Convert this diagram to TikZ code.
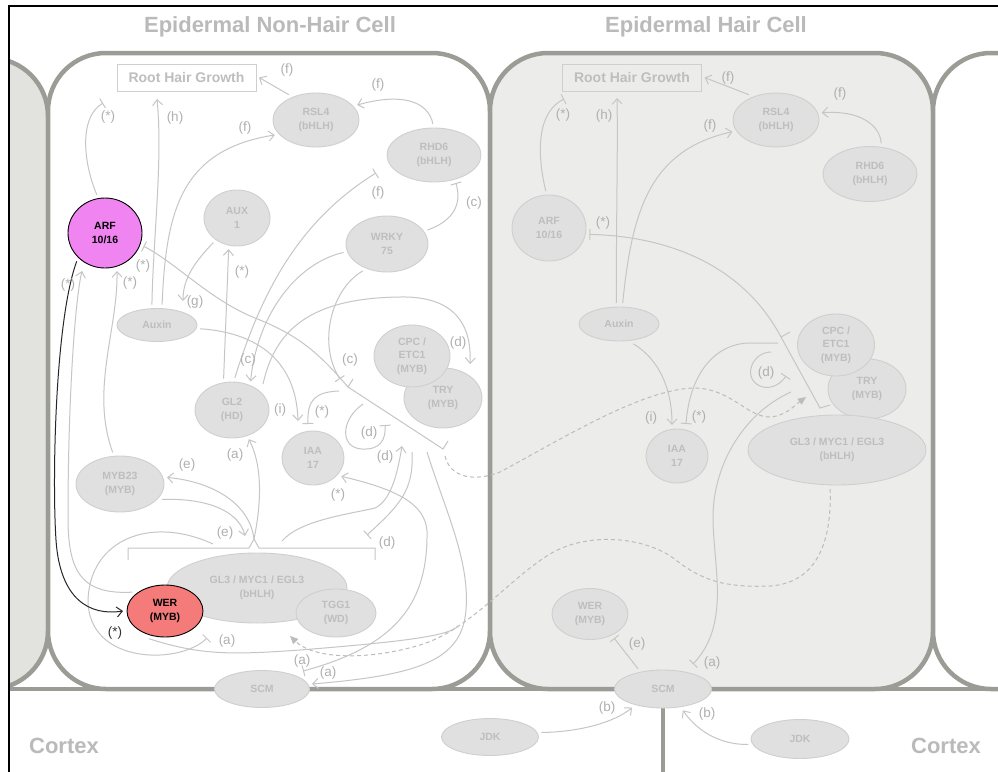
\documentclass[tikz,border=0pt]{standalone}
\usepackage{fontspec}
\setmainfont{Liberation Sans}
\usetikzlibrary{shapes.geometric,arrows.meta}
\definecolor{wallc}{RGB}{156,156,150}
\definecolor{haircell}{RGB}{236,236,234}
\definecolor{sidecell}{RGB}{226,226,223}
\definecolor{nfill}{RGB}{224,224,224}
\definecolor{nline}{RGB}{207,207,207}
\definecolor{ntext}{RGB}{190,190,190}
\definecolor{ecol}{RGB}{198,198,198}
\definecolor{lcol}{RGB}{176,176,176}
\definecolor{tcol}{RGB}{186,186,186}
\definecolor{arfc}{RGB}{240,132,240}
\definecolor{werc}{RGB}{245,122,122}
\definecolor{dashc}{RGB}{188,188,188}
\tikzset{
  gnode/.style={ellipse, draw=nline, fill=nfill, text=ntext, line width=0.9pt,
    inner sep=0pt, outer sep=4pt, align=center,
    font=\bfseries\fontsize{10.5}{13.5}\selectfont},
  keynode/.style={gnode, draw=black, text=black},
  rhgbox/.style={rectangle, draw=nline, line width=1pt, text=ntext, inner sep=0pt,
    outer sep=3pt, minimum width=139pt, minimum height=27pt,
    font=\bfseries\fontsize{14}{16}\selectfont},
  lnk/.style={draw=ecol, line width=1pt},
  act/.style={lnk, -{Straight Barb[length=5.5pt,width=10pt]}},
  inh/.style={lnk, -{Bar[width=11pt]}},
  keyact/.style={draw=black!85, line width=1pt, -{Straight Barb[length=5.5pt,width=10pt]}},
  moves/.style={draw=dashc, line width=1pt, dash pattern=on 4pt off 3pt,
    -{Triangle[length=8pt,width=7pt,fill=dashc]}},
  lab/.style={text=lcol, inner sep=0pt, font=\fontsize{13.5}{14}\selectfont},
  keylab/.style={lab, text=black!80},
  celltitle/.style={text=tcol, inner sep=0pt, font=\bfseries\fontsize{22}{24}\selectfont},
  wall/.style={draw=wallc, line width=4.5pt},
}
\begin{document}
\begin{tikzpicture}[x=1pt,y=-1pt]
\useasboundingbox (0,0) rectangle (998,771);
\fill[white] (0,0) rectangle (998,771);

% ---------- cells ----------
\begin{scope}
\clip (9,6) rectangle (998,771);
\draw[wall, fill=sidecell, rounded corners=58pt] (-120,58) rectangle (48,689);
\draw[wall, fill=white, rounded corners=58pt] (48,53) rectangle (490,689);
\draw[wall, fill=haircell, rounded corners=58pt] (490,53) rectangle (933,689);
\draw[wall, fill=white, rounded corners=58pt] (933,53) rectangle (1100,689);
\draw[wall] (0,689) -- (998,689);
\draw[wall] (663,689) -- (663,780);
\end{scope}
\draw[black, line width=1.5pt] (9,780) -- (9,6) -- (1000,6);

% ---------- titles ----------
\node[celltitle] (tnon) at (270,27) {Epidermal Non-Hair Cell};
\node[celltitle] (thair) at (706,27) {Epidermal Hair Cell};
\node[celltitle] (tcx1) at (64,746) {Cortex};
\node[celltitle] (tcx2) at (946,746) {Cortex};

% ---------- non-hair cell nodes ----------
\node[rhgbox, fill=white] (nrhg) at (186.5,77.5) {Root Hair Growth};
\node[gnode, minimum width=86pt, minimum height=54pt] (nrsl4) at (316,120) {RSL4\\(bHLH)};
\node[gnode, minimum width=94pt, minimum height=54pt] (nrhd6) at (434,155) {RHD6\\(bHLH)};
\node[gnode, minimum width=82pt, minimum height=56pt] (nwrky) at (387,244) {WRKY\\75};
\node[gnode, minimum width=66pt, minimum height=56pt] (naux) at (237,218) {AUX\\1};
\node[keynode, fill=arfc, minimum width=74pt, minimum height=70pt] (narf) at (105,233) {ARF\\10/16};
\node[gnode, minimum width=80pt, minimum height=33pt] (nauxin) at (157,325) {Auxin};
\node[gnode, minimum width=74pt, minimum height=56pt] (ngl2) at (232,410) {GL2\\(HD)};
\node[gnode, minimum width=88pt, minimum height=56pt] (nmyb) at (120,484) {MYB23\\(MYB)};
\node[gnode, minimum width=62pt, minimum height=54pt] (niaa) at (313,458) {IAA\\17};
\node[gnode, minimum width=78pt, minimum height=60pt] (ntry) at (443,398) {TRY\\(MYB)};
\node[gnode, minimum width=76pt, minimum height=62pt] (ncpc) at (412,356) {CPC /\\ETC1\\(MYB)};
\node[gnode, minimum width=180pt, minimum height=70pt] (ngl3) at (257,588) {GL3 / MYC1 / EGL3\\(bHLH)};
\node[gnode, minimum width=80pt, minimum height=48pt] (nttg) at (336,613) {TGG1\\(WD)};
\node[keynode, fill=werc, minimum width=76pt, minimum height=52pt] (nwer) at (165,611) {WER\\(MYB)};
\node[gnode, minimum width=95pt, minimum height=37pt] (nscm) at (262,689) {SCM};

% ---------- hair cell nodes ----------
\node[rhgbox, fill=haircell] (hrhg) at (632,77.5) {Root Hair Growth};
\node[gnode, minimum width=86pt, minimum height=54pt] (hrsl4) at (776,120) {RSL4\\(bHLH)};
\node[gnode, minimum width=94pt, minimum height=55pt] (hrhd6) at (870,174) {RHD6\\(bHLH)};
\node[gnode, minimum width=74pt, minimum height=66pt] (harf) at (549,228) {ARF\\10/16};
\node[gnode, minimum width=80pt, minimum height=34pt] (hauxin) at (619,324) {Auxin};
\node[gnode, minimum width=62pt, minimum height=54pt] (hiaa) at (677,456) {IAA\\17};
\node[gnode, minimum width=78pt, minimum height=60pt] (htry) at (867,389) {TRY\\(MYB)};
\node[gnode, minimum width=77pt, minimum height=62pt] (hcpc) at (836,345) {CPC /\\ETC1\\(MYB)};
\node[gnode, minimum width=178pt, minimum height=70pt] (hgl3) at (837,450) {GL3 / MYC1 / EGL3\\(bHLH)};
\node[gnode, minimum width=76pt, minimum height=51pt] (hwer) at (590,614) {WER\\(MYB)};
\node[gnode, minimum width=97pt, minimum height=38pt] (hscm) at (663,689) {SCM};
\node[gnode, minimum width=97pt, minimum height=37pt] (jdka) at (490,737) {JDK};
\node[gnode, minimum width=98pt, minimum height=39pt] (jdkb) at (800,739) {JDK};

% ---------- free ends and brackets (non-hair cell) ----------
\coordinate (nrhgA) at (103,103);
\coordinate (nrhgH) at (157,99);
\coordinate (nauxG) at (183,301);
\coordinate (nbT) at (348,387);
\coordinate (nbB) at (443,449);
\coordinate (nbTt) at (353,379);
\coordinate (nbBt) at (448,441);
\coordinate (ncBar) at (340,379);
\coordinate (niaaI) at (298,421);
\coordinate (niaaS) at (308,424);
\coordinate (ntryD) at (470,364);
\coordinate (nrhdF) at (376,173);
\coordinate (nbrL) at (128,560);
\coordinate (nbrR) at (375,560);
\coordinate (nbrC) at (254,539);
\coordinate (nscmA) at (303,671);
\coordinate (nscmB) at (312,684);

\draw[lnk] (nbTt) -- (nbT) -- (nbB) -- (nbBt);
\draw[lnk] (nbrL) -- (128,548) -- (249,548) -- (nbrC) -- (259,548) -- (375,548) -- (nbrR);

% ---------- free ends and brackets (hair cell) ----------
\coordinate (hrhgA) at (564,99);
\coordinate (hrhgH) at (617,98);
\coordinate (hiaaI) at (672,425);
\coordinate (hiaaS) at (686,424);
\coordinate (hbT) at (781,337);
\coordinate (hbB) at (820,408);
\coordinate (hscmA) at (693,664);
\draw[lnk] (790,332) -- (hbT) -- (hbB) -- (830,405);

% ---------- non-hair cell links ----------
\draw[inh] (narf.102) .. controls (84,165) and (78,118) .. (nrhgA);
\draw[act] (nauxin.104) .. controls (153,240) and (163,160) .. (nrhgH);
\draw[act] (nauxin.76) .. controls (166,212) and (180,150) .. (nrsl4.200);
\draw[act] (nrsl4.137) -- (nrhg.east);
\draw[act] (nrhd6.92) .. controls (428,100) and (400,93) .. (nrsl4.20);
\draw[inh] (nwrky.19) .. controls (450,222) and (463,207) .. (nrhd6.-52);
\draw[inh] (ngl2.85) .. controls (262,290) and (300,220) .. (nrhdF);
\draw[act] (ngl2.105) -- (naux.-105);
\draw[act] (naux.-134) .. controls (195,262) and (183,278) .. (nauxG);
\draw[inh] (nbT) .. controls (318,352) and (298,335) .. (255,318) .. controls (210,300) and (175,262) .. (narf.-19);
\draw[act] (nauxin.-5) .. controls (250,332) and (296,355) .. (niaaI);
\draw[inh] (nwrky.-132) .. controls (330,290) and (318,345) .. (ncBar);
\draw[inh] (339,391) .. controls (315,392) and (307,400) .. (niaaS);
\draw[act] (nwrky.191) .. controls (300,262) and (258,310) .. (ngl2.57);
\draw[act] (263,384) .. controls (275,330) and (310,298) .. (400,297) .. controls (450,296) and (472,320) .. (ntryD);
\draw[inh] (363,404) .. controls (340,420) and (340,448) .. (362,449) .. controls (380,450) and (386,440) .. (385,425);
\draw[act] (282,541) .. controls (300,520) and (350,514) .. (375,508) .. controls (392,500) and (398,470) .. (402,446);
\draw[act] (nbrC) .. controls (262,500) and (262,465) .. (ngl2.-60);
\draw[act] (nbrC) .. controls (250,505) and (215,482) .. (nmyb.8);
\draw[act] (nmyb.-20) .. controls (215,498) and (240,515) .. (245,536);
\draw[act] (nmyb.103) .. controls (90,390) and (118,330) .. (117,271);
\draw[act] (nwer.150) .. controls (80,595) and (68,570) .. (68,517) .. controls (68,400) and (75,300) .. (82,271);
\draw[inh] (213,544) .. controls (150,515) and (90,540) .. (88,600) .. controls (88,665) and (180,665) .. (207,638);
\draw[lnk] (nwer.-120) .. controls (200,655) and (230,655) .. (300,650) .. controls (400,642) and (450,636) .. (458,626);
\draw[inh] (412,452) .. controls (414,490) and (400,505) .. (367,535);
\draw[act] (427,452) .. controls (445,510) and (470,560) .. (466,610) .. controls (462,660) and (420,675) .. (nscmB);
\draw[act] (427,531) .. controls (425,505) and (400,490) .. (niaa.-33);
\draw[inh] (427,531) .. controls (428,600) and (400,645) .. (nscmA);
\draw[keyact] (narf.225) .. controls (55,320) and (52,480) .. (56,540) .. controls (60,600) and (90,616) .. (nwer.west);

% ---------- hair cell links ----------
\draw[inh] (harf.95) .. controls (536,150) and (538,112) .. (hrhgA);
\draw[act] (hauxin.97) .. controls (616,230) and (618,150) .. (hrhgH);
\draw[act] (hauxin.80) .. controls (632,210) and (650,150) .. (hrsl4.195);
\draw[act] (hrsl4.137) -- (hrhg.east);
\draw[act] (hrhd6.70) .. controls (880,125) and (860,110) .. (hrsl4.9);
\draw[inh] (hbT) .. controls (740,260) and (660,236) .. (harf.-9);
\draw[act] (hauxin.-54) .. controls (660,360) and (672,390) .. (hiaaI);
\draw[inh] (778,343) -- (750,343) .. controls (718,343) and (690,370) .. (hiaaS);
\draw[inh] (771,352) .. controls (752,352) and (742,378) .. (760,386) .. controls (772,391) and (782,382) .. (786,376);
\draw[inh] (791,392) .. controls (740,415) and (712,470) .. (713,520) .. controls (714,570) and (730,625) .. (hscmA);
\draw[inh] (hscm.141) -- (hwer.-45);
\draw[act] (jdka.5) .. controls (580,732) and (615,722) .. (hscm.-149);
\draw[act] (jdkb.186) .. controls (725,745) and (700,735) .. (hscm.-47);

% ---------- movement between cells ----------
\draw[moves] (hgl3.-100) .. controls (832,545) and (815,583) .. (770,586) .. controls (720,588) and (700,578) .. (677,561) .. controls (650,538) and (590,530) .. (550,554) .. controls (510,578) and (470,630) .. (420,645) .. controls (370,660) and (315,660) .. (290,636);
\draw[moves] (445,456) .. controls (450,478) and (475,482) .. (500,472) .. controls (560,440) and (640,390) .. (693,388) .. controls (730,388) and (745,415) .. (768,417) .. controls (785,417) and (795,405) .. (806,397);

% ---------- labels, non-hair cell ----------
\node[lab] (l01) at (108,117) {(*)};
\node[lab] (l02) at (175,118) {(h)};
\node[lab] (l03) at (245,128) {(f)};
\node[lab] (l04) at (287,70) {(f)};
\node[lab] (l05) at (378,85) {(f)};
\node[lab] (l06) at (378,193) {(f)};
\node[lab] (l07) at (474,203) {(c)};
\node[lab] (l08) at (242,272) {(*)};
\node[lab] (l09) at (143,266) {(*)};
\node[lab] (l10) at (68,285) {(*)};
\node[lab] (l11) at (130,283) {(*)};
\node[lab] (l12) at (195,302) {(g)};
\node[lab] (l13) at (248,360) {(c)};
\node[lab] (l14) at (350,360) {(c)};
\node[lab] (l15) at (458,343) {(d)};
\node[lab] (l16) at (280,410) {(i)};
\node[lab] (l17) at (322,412) {(*)};
\node[lab] (l18) at (369,433) {(d)};
\node[lab] (l19) at (385,457) {(d)};
\node[lab] (l20) at (235,455) {(a)};
\node[lab] (l21) at (187,465) {(e)};
\node[lab] (l22) at (338,495) {(*)};
\node[lab] (l23) at (225,533) {(e)};
\node[lab] (l24) at (387,543) {(d)};
\node[keylab] (l25) at (115,633) {(*)};
\node[lab] (l26) at (227,641) {(a)};
\node[lab] (l27) at (302,661) {(a)};
\node[lab] (l28) at (328,673) {(a)};

% ---------- labels, hair cell ----------
\node[lab] (m01) at (563,115) {(*)};
\node[lab] (m02) at (604,116) {(h)};
\node[lab] (m03) at (710,126) {(f)};
\node[lab] (m04) at (728,78) {(f)};
\node[lab] (m05) at (840,94) {(f)};
\node[lab] (m06) at (603,223) {(*)};
\node[lab] (m07) at (651,418) {(i)};
\node[lab] (m08) at (699,417) {(*)};
\node[lab] (m09) at (766,373) {(d)};
\node[lab] (m10) at (712,663) {(a)};
\node[lab] (m11) at (637,644) {(e)};
\node[lab] (m12) at (607,708) {(b)};
\node[lab] (m13) at (707,714) {(b)};
\end{tikzpicture}
\end{document}
